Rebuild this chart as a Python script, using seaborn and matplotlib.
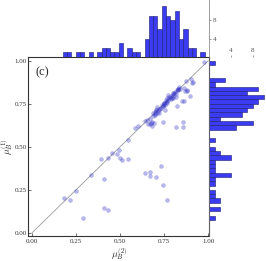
import numpy as np
import pandas as pd
import matplotlib
matplotlib.use('Agg')
import matplotlib.pyplot as plt
import seaborn as sns

# mu_B^(2) (x) and mu_B^(1) (y)
mu2 = [0.183, 0.214, 0.251, 0.291, 0.335, 0.390, 0.408, 0.408, 0.433, 0.433,
       0.452, 0.484, 0.495, 0.499, 0.509, 0.543, 0.546, 0.640, 0.671, 0.667,
       0.702, 0.730, 0.741, 0.766,
       0.584, 0.603, 0.679, 0.815, 0.856,
       0.641, 0.658, 0.745, 0.856, 0.668, 0.674, 0.682, 0.690,
       0.650, 0.669,
       0.686, 0.698, 0.684, 0.722, 0.700, 0.709,
       0.703, 0.706, 0.754, 0.713, 0.718, 0.729, 0.699,
       0.733, 0.745, 0.821, 0.738, 0.742, 0.749, 0.756, 0.708,
       0.752, 0.764, 0.773, 0.849, 0.758, 0.768, 0.762, 0.862, 0.750,
       0.766, 0.789, 0.815, 0.896, 0.781, 0.787, 0.792, 0.798, 0.776, 0.803,
       0.773, 0.800, 0.877, 0.808, 0.812, 0.818, 0.802,
       0.826, 0.830, 0.824, 0.840, 0.868, 0.864, 0.832, 0.828, 0.881,
       0.909, 0.904, 0.874, 0.912, 0.977]
mu1 = [0.202, 0.190, 0.244, 0.089, 0.337, 0.427, 0.314, 0.145, 0.134, 0.434,
       0.463, 0.459, 0.483, 0.434, 0.421, 0.427, 0.541, 0.345, 0.355, 0.330,
       0.327, 0.390, 0.279, 0.190,
       0.609, 0.618, 0.618, 0.612, 0.612,
       0.647, 0.630, 0.641, 0.641, 0.634, 0.640, 0.645, 0.636,
       0.657, 0.661,
       0.678, 0.686, 0.696, 0.696, 0.690, 0.694,
       0.715, 0.711, 0.715, 0.707, 0.720, 0.722, 0.704,
       0.728, 0.734, 0.734, 0.742, 0.737, 0.746, 0.744, 0.731,
       0.754, 0.763, 0.773, 0.763, 0.760, 0.757, 0.770, 0.768, 0.752,
       0.783, 0.793, 0.789, 0.793, 0.782, 0.778, 0.786, 0.795, 0.790, 0.781,
       0.802, 0.804, 0.822, 0.810, 0.818, 0.806, 0.815,
       0.835, 0.838, 0.832, 0.835, 0.826, 0.842, 0.846, 0.829, 0.831,
       0.870, 0.894, 0.880, 0.878, 0.992]

main_ticks = [0.0, 0.25, 0.5, 0.75, 1.0]
main_ticklabels = ['0.00', '0.25', '0.50', '0.75', '1.00']
count_ticks = [4, 8]

df = pd.DataFrame({'mu2': mu2, 'mu1': mu1})

sns.set_style('ticks')
plt.rcParams['font.family'] = ['Liberation Serif', 'DejaVu Serif']
plt.rcParams['mathtext.fontset'] = 'cm'

fig = plt.figure(figsize=(2.66, 2.61), dpi=100)
ax = fig.add_axes([0.107, 0.096, 0.679, 0.686])
ax_top = fig.add_axes([0.107, 0.782, 0.679, 0.218])
ax_right = fig.add_axes([0.786, 0.096, 0.214, 0.686])

bar_face = '#3b3bf2'
bar_edge = '#1c1c6e'
xbins = 0.175 + 0.0244 * np.arange(34)
ybins = 0.075 + 0.025 * np.arange(38)

# main scatter
ax.plot([0, 1], [0, 1], color='#9a9a9a', lw=0.6, zorder=1)
sns.scatterplot(data=df, x='mu2', y='mu1', ax=ax, color='#3535c8', alpha=0.35,
                s=8, edgecolor='#3535c8', linewidth=0.3, zorder=2)
ax.set_xlim(-0.02, 1.005)
ax.set_ylim(-0.018, 1.022)
ax.set_xticks(main_ticks)
ax.set_xticklabels(main_ticklabels)
ax.set_yticks(main_ticks)
ax.set_yticklabels(main_ticklabels)
ax.tick_params(labelsize=5, length=2, width=0.5, direction='in', pad=2,
               colors='#333333')
ax.tick_params(axis='y', pad=1)
ax.set_xlabel(r'$\mu_B^{(2)}$', fontsize=7)
ax.set_ylabel(r'$\mu_B^{(1)}$', fontsize=7)
ax.xaxis.set_label_coords(0.5, -0.1, transform=ax.transAxes)
ax.yaxis.set_label_coords(-0.118, 0.5, transform=ax.transAxes)
ax.xaxis.label.set_va('center')
ax.yaxis.label.set_va('center')
for s in ax.spines.values():
    s.set_linewidth(0.8)
    s.set_color('#333333')
ax.text(0.04, 0.95, '(c)', transform=ax.transAxes, fontsize=9, va='top',
        ha='left')

# top marginal
sns.histplot(x=df['mu2'], bins=xbins, ax=ax_top, color=bar_face, alpha=1,
             edgecolor=bar_edge, linewidth=0.4)
ax_top.set_xlim(ax.get_xlim())
ax_top.set_ylim(0, 12.4)
ax_top.yaxis.tick_right()
ax_top.set_yticks(count_ticks)
ax_top.set_xticks([])
ax_top.set_xlabel('')
ax_top.set_ylabel('')
ax_top.tick_params(labelsize=5, length=1.5, width=0.4, pad=1, colors='#555555')
ax_top.patch.set_alpha(0)
for side in ['top', 'left', 'bottom']:
    ax_top.spines[side].set_visible(False)
ax_top.spines['right'].set_linewidth(0.5)
ax_top.spines['right'].set_color('#777777')

# right marginal
sns.histplot(y=df['mu1'], bins=ybins, ax=ax_right, color=bar_face, alpha=1,
             edgecolor=bar_edge, linewidth=0.4)
ax_right.set_ylim(ax.get_ylim())
ax_right.set_xlim(0, 10.4)
ax_right.xaxis.tick_top()
ax_right.set_xticks(count_ticks)
ax_right.set_yticks([])
ax_right.set_xlabel('')
ax_right.set_ylabel('')
ax_right.tick_params(labelsize=5, length=1.5, width=0.4, pad=1, colors='#555555')
ax_right.patch.set_alpha(0)
for side in ['top', 'right', 'bottom']:
    ax_right.spines[side].set_visible(False)
ax_right.spines['left'].set_linewidth(0.5)
ax_right.spines['left'].set_color('#777777')

fig.savefig('out.png', dpi=100)
